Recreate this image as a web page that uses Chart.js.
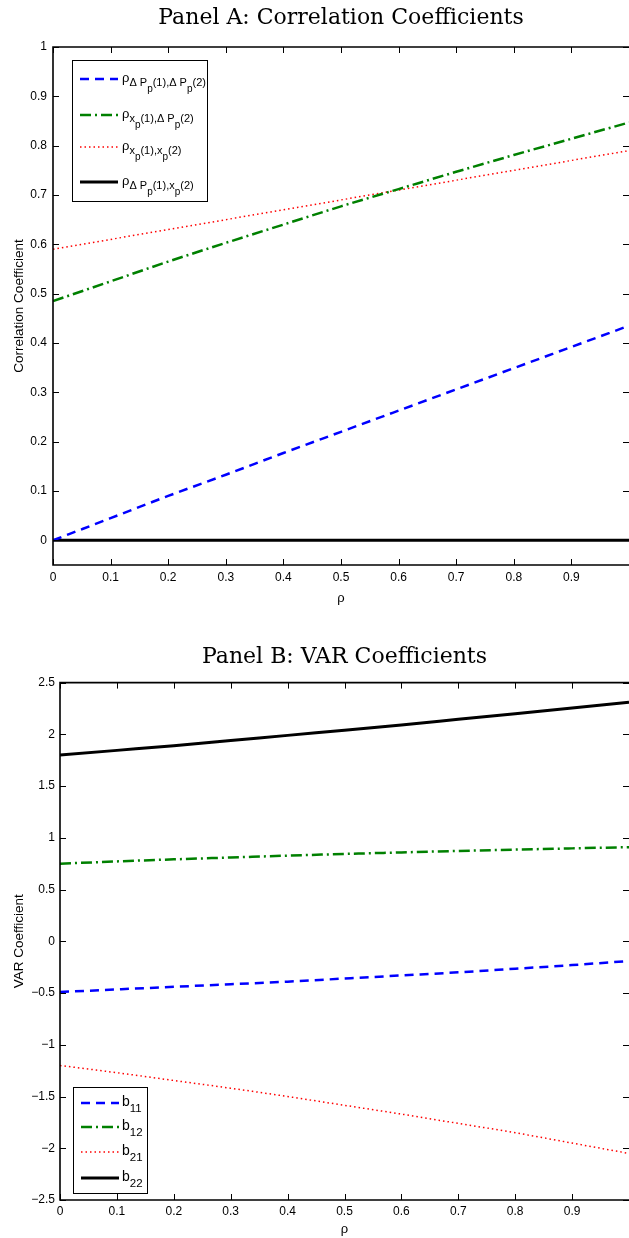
<!DOCTYPE html>
<html>
<head>
<meta charset="utf-8">
<script src="https://cdn.jsdelivr.net/npm/chart.js@4.4.1/dist/chart.umd.min.js"></script>
<style>
  html, body { margin: 0; padding: 0; background: #fff; }
  .panel { position: relative; width: 629px; overflow: hidden; }
</style>
</head>
<body>
<div class="panel" style="height:620px"><canvas id="panelA" width="629" height="620"></canvas></div>
<div class="panel" style="height:618px"><canvas id="panelB" width="629" height="618"></canvas></div>
<script>
// rho grid
const rho = [0, 0.1, 0.2, 0.3, 0.4, 0.5, 0.6, 0.7, 0.8, 0.9, 1];

// Panel A: correlation coefficients
const corrDpDp = [0, 0.045, 0.09, 0.133, 0.177, 0.22, 0.263, 0.306, 0.349, 0.392, 0.435];
const corrXDp  = [0.485, 0.525, 0.565, 0.603, 0.64, 0.677, 0.712, 0.747, 0.781, 0.814, 0.847];
const corrXX   = [0.59, 0.61, 0.63, 0.65, 0.67, 0.69, 0.71, 0.73, 0.75, 0.77, 0.79];
const corrDpX  = [0, 0, 0, 0, 0, 0, 0, 0, 0, 0, 0];

// Panel B: VAR coefficients
const b11 = [-0.49, -0.465, -0.44, -0.415, -0.39, -0.36, -0.33, -0.30, -0.265, -0.23, -0.19];
const b12 = [0.75, 0.772, 0.792, 0.81, 0.828, 0.844, 0.859, 0.873, 0.886, 0.898, 0.91];
const b21 = [-1.20, -1.27, -1.345, -1.42, -1.50, -1.585, -1.67, -1.76, -1.85, -1.95, -2.05];
const b22 = [1.80, 1.845, 1.89, 1.94, 1.99, 2.04, 2.09, 2.145, 2.20, 2.255, 2.31];

// ticks
const xTicks  = [0, 0.1, 0.2, 0.3, 0.4, 0.5, 0.6, 0.7, 0.8, 0.9];
const yTicksA = [0, 0.1, 0.2, 0.3, 0.4, 0.5, 0.6, 0.7, 0.8, 0.9, 1];
const yTicksB = [-2.5, -2, -1.5, -1, -0.5, 0, 0.5, 1, 1.5, 2, 2.5];

const SANS = '"Liberation Sans", Arial, sans-serif';
const pts = ys => rho.map((r, i) => ({ x: r, y: ys[i] }));
const fmt = v => String(Math.round(v * 10) / 10).replace('-', '\u2212');

// matlab-like box with inward ticks
const frame = {
  id: 'frame',
  afterDatasetsDraw(chart) {
    const { ctx, chartArea: a, scales: { x, y } } = chart;
    ctx.save();
    ctx.strokeStyle = '#000';
    ctx.lineWidth = 1;
    ctx.beginPath();
    x.ticks.forEach(t => {
      const px = Math.round(x.getPixelForValue(t.value)) + 0.5;
      ctx.moveTo(px, a.bottom); ctx.lineTo(px, a.bottom - 6);
      ctx.moveTo(px, a.top); ctx.lineTo(px, a.top + 6);
    });
    y.ticks.forEach(t => {
      const py = Math.round(y.getPixelForValue(t.value)) + 0.5;
      ctx.moveTo(a.left, py); ctx.lineTo(a.left + 6, py);
      ctx.moveTo(a.right, py); ctx.lineTo(a.right - 6, py);
    });
    ctx.stroke();
    ctx.lineWidth = 1.6;
    ctx.beginPath();
    ctx.moveTo(a.right + 2, a.top); ctx.lineTo(a.left, a.top);
    ctx.lineTo(a.left, a.bottom); ctx.lineTo(a.right + 2, a.bottom);
    ctx.stroke();
    ctx.restore();
  }
};

// legend with sub/subsubscripts
const legendBox = {
  id: 'legendBox',
  afterDraw(chart, args, o) {
    const { ctx, chartArea: a } = chart;
    const left = a.left + o.dx;
    const top = o.fromBottom ? a.bottom - o.dy - o.h : a.top + o.dy;
    ctx.save();
    ctx.fillStyle = '#fff';
    ctx.fillRect(left, top, o.w, o.h);
    ctx.strokeStyle = '#000';
    ctx.lineWidth = 1;
    ctx.strokeRect(left + 0.5, top + 0.5, o.w, o.h);
    chart.data.datasets.forEach((ds, i) => {
      const cy = top + o.rows[i];
      ctx.strokeStyle = ds.borderColor;
      ctx.lineWidth = ds.borderWidth;
      ctx.setLineDash(ds.borderDash || []);
      ctx.beginPath();
      ctx.moveTo(left + 8, cy); ctx.lineTo(left + 46, cy);
      ctx.stroke();
      ctx.setLineDash([]);
      let tx = left + o.textX;
      ctx.fillStyle = '#000';
      ctx.textAlign = 'left';
      ctx.textBaseline = 'alphabetic';
      ds.legendParts.forEach(([txt, lvl]) => {
        ctx.font = o.sizes[lvl] + 'px ' + SANS;
        ctx.fillText(txt, tx, cy + o.base + o.shift[lvl]);
        tx += ctx.measureText(txt).width;
      });
    });
    ctx.restore();
  }
};

function makeChart(id, cfg) {
  return new Chart(document.getElementById(id), {
    type: 'line',
    data: { datasets: cfg.datasets },
    plugins: [frame, legendBox],
    options: {
      responsive: false,
      animation: false,
      layout: { padding: { left: 0, top: 0, bottom: 0, right: -2 } },
      elements: { point: { radius: 0 }, line: { cubicInterpolationMode: 'monotone' } },
      plugins: {
        legend: { display: false },
        tooltip: { enabled: false },
        title: {
          display: true,
          text: cfg.title,
          fullSize: false,
          color: '#000',
          font: { family: '"DejaVu Serif", "Liberation Serif", serif', size: 22, weight: 'normal', lineHeight: 1.2 },
          padding: cfg.titlePad
        },
        legendBox: cfg.legend
      },
      scales: {
        x: {
          type: 'linear',
          min: 0, max: 1,
          grid: { display: false, drawTicks: false },
          border: { display: false },
          afterBuildTicks: s => { s.ticks = xTicks.map(v => ({ value: v })); },
          afterFit: s => { s.height = cfg.xAxisH; },
          ticks: { color: '#000', font: { family: SANS, size: 12 }, padding: cfg.xTickPad, callback: fmt, maxRotation: 0 },
          title: { display: true, text: 'ρ', color: '#000', font: { family: SANS, size: 13 }, padding: { top: 0, bottom: cfg.xTitlePad } }
        },
        y: {
          type: 'linear',
          min: cfg.yMin, max: cfg.yMax,
          grid: { display: false, drawTicks: false },
          border: { display: false },
          afterBuildTicks: s => { s.ticks = cfg.yTicks.map(v => ({ value: v })); },
          afterFit: s => { s.width = cfg.yAxisW; },
          ticks: { color: '#000', font: { family: SANS, size: 12 }, padding: cfg.yTickPad, callback: fmt },
          title: { display: true, text: cfg.yTitle, color: '#000', font: { family: SANS, size: 13.5 }, padding: { top: 10.9, bottom: 0 } }
        }
      }
    }
  });
}

const blueDash  = { borderColor: '#0000ff', borderWidth: 2.5, borderDash: [9, 6] };
const greenDot  = { borderColor: '#008000', borderWidth: 2.5, borderDash: [11, 4, 2, 4] };
const redDot    = { borderColor: '#ff0000', borderWidth: 1.5, borderDash: [1.5, 3] };
const blackLine = { borderColor: '#000000', borderWidth: 3 };

makeChart('panelA', {
  title: 'Panel A: Correlation Coefficients',
  titlePad: { top: 4.8, bottom: 15.8 },
  yTitle: 'Correlation Coefficient',
  yMin: -0.05, yMax: 1, yTicks: yTicksA,
  yAxisW: 53, xAxisH: 55, xTickPad: 5.8, xTitlePad: 14, yTickPad: 6,
  datasets: [
    { ...blueDash, data: pts(corrDpDp), legendParts: [['ρ', 0], ['Δ P', 1], ['p', 2], ['(1),Δ P', 1], ['p', 2], ['(2)', 1]] },
    { ...greenDot, data: pts(corrXDp), legendParts: [['ρ', 0], ['x', 1], ['p', 2], ['(1),Δ P', 1], ['p', 2], ['(2)', 1]] },
    { ...redDot, data: pts(corrXX), legendParts: [['ρ', 0], ['x', 1], ['p', 2], ['(1),x', 1], ['p', 2], ['(2)', 1]] },
    { ...blackLine, data: pts(corrDpX), legendParts: [['ρ', 0], ['Δ P', 1], ['p', 2], ['(1),x', 1], ['p', 2], ['(2)', 1]] }
  ],
  legend: { dx: 19, dy: 13, w: 135, h: 141, fromBottom: false, rows: [19, 55, 87, 122], textX: 50,
            base: 3, sizes: [13, 11, 10], shift: [0, 4, 10] }
});

makeChart('panelB', {
  title: 'Panel B: VAR Coefficients',
  titlePad: { top: 23.8, bottom: 12.4 },
  yTitle: 'VAR Coefficient',
  yMin: -2.5, yMax: 2.5, yTicks: yTicksB,
  yAxisW: 60, xAxisH: 38, xTickPad: 4.8, xTitlePad: 0.5, yTickPad: 5,
  datasets: [
    { ...blueDash, data: pts(b11), legendParts: [['b', 0], ['11', 1]] },
    { ...greenDot, data: pts(b12), legendParts: [['b', 0], ['12', 1]] },
    { ...redDot, data: pts(b21), legendParts: [['b', 0], ['21', 1]] },
    { ...blackLine, data: pts(b22), legendParts: [['b', 0], ['22', 1]] }
  ],
  legend: { dx: 13, dy: 7, w: 74, h: 106, fromBottom: true, rows: [16, 40, 65, 91], textX: 49,
            base: 3, sizes: [14, 11.5, 10], shift: [0, 6, 10] }
});
</script>
</body>
</html>
